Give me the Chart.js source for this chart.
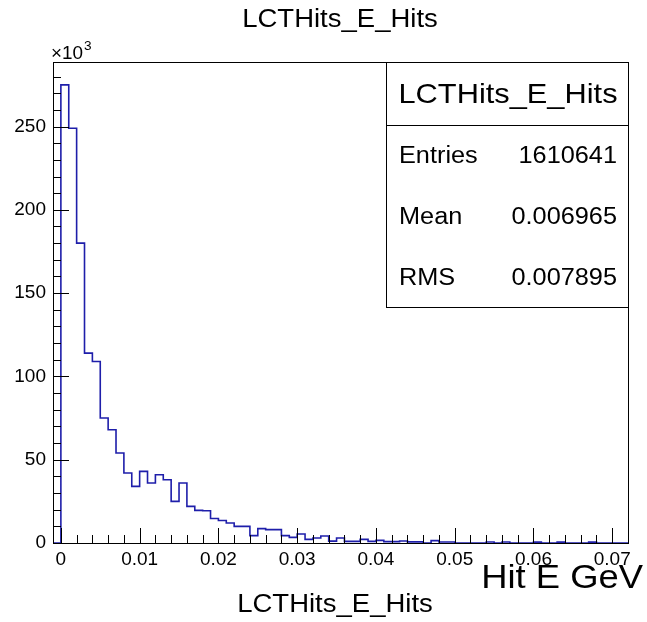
<!DOCTYPE html>
<html lang="en">
<head>
  <meta charset="UTF-8">
  <title>LCTHits_E_Hits</title>
  <script src="https://cdn.jsdelivr.net/npm/chart.js"></script>
  <style>
    html, body {
      margin: 0;
      background: #fff;
    }
    #chart-container {
      width: 647px;
      height: 622px;
    }
  </style>
</head>
<body>
  <div id="chart-container">
    <canvas id="histChart"></canvas>
  </div>
  <script>
    // histogram definition: first bin starts at -0.001, width 0.001
    const binLow = -0.001;
    const binWidth = 0.001;
    // bin contents in units of 10^3 entries
    const counts = [
      0,
      275, 249, 180, 114, 109, 75, 68, 54, 42, 34,
      43, 36, 41, 38, 25, 36, 22, 19.6, 19.4, 14.7,
      13.5, 12, 10, 10, 4.4, 8.6, 8, 8, 4.4, 3.4,
      5.4, 2.2, 3, 4.2, 1.1, 3, 1, 1, 2.2, 1,
      1.6, 0.8, 0.8, 1.2, 0.7, 0.7, 0, 1.4, 0.6, 0.6,
      0, 0, 0, 0, 0.6, 0, 0.6, 0, 0, 0,
      0.5, 0, 0, 0.5, 0, 0, 0, 0.5, 0, 0,
      0, 0
    ];
    const xTicks = [0, 0.01, 0.02, 0.03, 0.04, 0.05, 0.06, 0.07];
    const yTicks = [0, 50, 100, 150, 200, 250];
    const statsLabels = ['Entries', 'Mean', 'RMS'];
    const statsValues = ['1610641', '0.006965', '0.007895'];
    const histName = 'LCTHits_E_Hits';

    const xMin = -0.001, xMax = 0.072;
    const yMax = 288.75;

    // outline points at bin left edges, closed at the last edge
    const points = counts.map((c, i) => ({ x: binLow + i * binWidth, y: c }));
    points.push({ x: binLow + counts.length * binWidth, y: 0 });

    const FONT = '"Liberation Sans", Arial, Helvetica, sans-serif';

    function drawText(ctx, str, x, y, size, align, sx) {
      ctx.save();
      ctx.font = size + 'px ' + FONT;
      ctx.fillStyle = '#000';
      ctx.textBaseline = 'middle';
      ctx.textAlign = align;
      ctx.translate(x, y);
      ctx.scale(sx, 1);
      ctx.fillText(str, 0, 0);
      ctx.restore();
    }

    const rootFrame = {
      id: 'rootFrame',
      afterDraw(chart) {
        const ctx = chart.ctx;
        const a = chart.chartArea;
        const xs = chart.scales.x, ys = chart.scales.y;
        ctx.save();
        ctx.strokeStyle = '#000';
        ctx.lineWidth = 1;
        ctx.strokeRect(a.left + 0.5, a.top + 0.5, a.right - a.left, a.bottom - a.top);

        // x ticks (inside, pointing up)
        ctx.beginPath();
        for (let k = 0; k <= 36; k++) {
          const v = k * 0.002;
          const px = Math.round(xs.getPixelForValue(v)) + 0.5;
          const len = k % 5 === 0 ? 15 : 8;
          ctx.moveTo(px, a.bottom);
          ctx.lineTo(px, a.bottom - len);
        }
        // y ticks (inside, pointing right)
        for (let k = 0; k <= 28; k++) {
          const py = Math.round(ys.getPixelForValue(k * 10)) + 0.5;
          const len = k % 5 === 0 ? 16 : 8;
          ctx.moveTo(a.left, py);
          ctx.lineTo(a.left + len, py);
        }
        ctx.stroke();

        // stats box
        const bx = 386, by = a.top, bw = a.right - 386, bh = 245;
        ctx.fillStyle = '#fff';
        ctx.fillRect(bx, by, bw, bh);
        ctx.strokeRect(bx + 0.5, by + 0.5, bw, bh);
        ctx.beginPath();
        ctx.moveTo(bx, 125.5);
        ctx.lineTo(bx + bw, 125.5);
        ctx.stroke();
        ctx.restore();

        drawText(ctx, histName, (bx + a.right) / 2 + 1, 95, 28, 'center', 1.1);
        statsLabels.forEach((s, i) => {
          const y = 157 + i * 61;
          drawText(ctx, s, 399, y, 23, 'left', 1.1);
          drawText(ctx, statsValues[i], 617, y, 23, 'right', 1.1);
        });

        // titles
        drawText(ctx, histName, 340, 20, 25, 'center', 1.1);
        drawText(ctx, histName, 335, 605, 25, 'center', 1.1);
        drawText(ctx, 'Hit E GeV', 643, 579, 34, 'right', 1.07);
        // x10^3 multiplier
        drawText(ctx, '\u00d710', 51, 54, 18, 'left', 1.05);
        drawText(ctx, '3', 84, 46, 13, 'left', 1.05);
      }
    };

    const ctx = document.getElementById('histChart').getContext('2d');
    const chart = new Chart(ctx, {
      type: 'line',
      data: {
        datasets: [{
          label: histName,
          data: points,
          stepped: true,
          borderColor: '#1e1eaa',
          borderWidth: 1.6,
          pointRadius: 0,
          fill: false,
          tension: 0
        }]
      },
      plugins: [rootFrame],
      options: {
        responsive: true,
        maintainAspectRatio: false,
        animation: false,
        layout: { padding: { top: 62, right: 19, left: 0, bottom: 0 } },
        plugins: {
          legend: { display: false },
          tooltip: { enabled: false },
          title: { display: false }
        },
        scales: {
          x: {
            type: 'linear',
            min: xMin,
            max: xMax,
            afterFit: s => { s.height = 79; },
            afterBuildTicks: s => { s.ticks = xTicks.map(v => ({ value: v })); },
            grid: { display: false, drawTicks: false },
            border: { display: false },
            ticks: {
              autoSkip: false,
              maxRotation: 0,
              padding: 5,
              color: '#000',
              font: { family: FONT, size: 19 },
              callback: v => String(Number(v.toFixed(3)))
            }
          },
          y: {
            min: 0,
            max: yMax,
            afterFit: s => { s.width = 53; },
            afterBuildTicks: s => { s.ticks = yTicks.map(v => ({ value: v })); },
            grid: { display: false, drawTicks: false },
            border: { display: false },
            ticks: {
              padding: 7,
              color: '#000',
              font: { family: FONT, size: 19 },
              callback: v => String(v)
            }
          }
        }
      }
    });
  </script>
</body>
</html>
